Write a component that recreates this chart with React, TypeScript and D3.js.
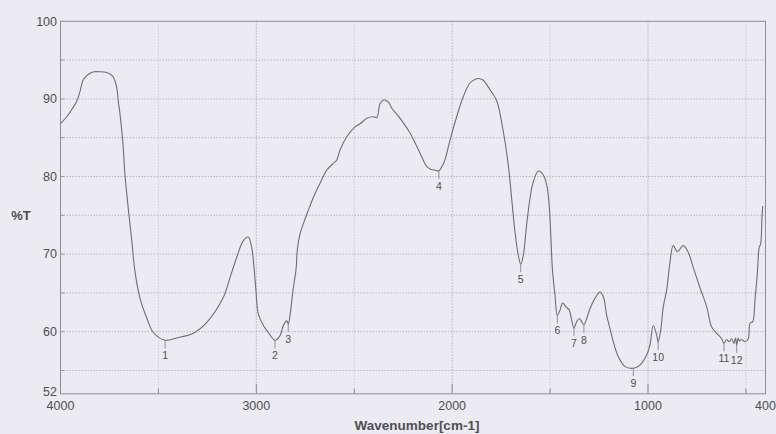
import React from "react";
import * as d3 from "d3";

const wavenumbers = [
  4000, 3968, 3943, 3917, 3900, 3885, 3870, 3849, 3829, 3798, 3764, 3747, 3730, 3713, 3705, 3696, 3682, 3671, 3654, 3636,
  3620, 3594, 3560, 3526, 3466, 3407, 3322, 3253, 3169, 3134, 3100, 3067, 3041, 3024, 3012, 3002, 2990, 2964, 2939, 2905,
  2879, 2862, 2845, 2837, 2828, 2813, 2797, 2791, 2777, 2760, 2735, 2709, 2675, 2641, 2607, 2590, 2573, 2539, 2496, 2470,
  2436, 2402, 2385, 2368, 2351, 2326, 2308, 2266, 2215, 2164, 2130, 2110, 2085, 2068, 2050, 2036, 2011, 1977, 1943, 1909,
  1875, 1858, 1841, 1807, 1773, 1739, 1713, 1696, 1679, 1662, 1650, 1637, 1620, 1603, 1586, 1560, 1535, 1517, 1506, 1497,
  1488, 1475, 1463, 1449, 1436, 1419, 1402, 1390, 1378, 1364, 1351, 1339, 1327, 1313, 1296, 1271, 1245, 1228, 1211, 1194,
  1177, 1152, 1117, 1075, 1041, 1007, 990, 973, 956, 948, 935, 922, 905, 889, 871, 850, 820, 794, 769, 735,
  700, 675, 649, 624, 612, 598, 585, 573, 561, 553, 547, 540, 534, 522, 505, 488, 479, 465, 454, 442,
  432, 425, 418, 414,
];

const transmittance = [
  86.8, 87.7, 88.6, 89.7, 91.0, 92.4, 92.9, 93.3, 93.5, 93.5, 93.4, 93.2, 92.8, 91.5, 89.7, 88.0, 84.5, 80.3, 75.9, 71.7,
  67.8, 64.3, 61.8, 59.9, 58.9, 59.2, 59.8, 61.2, 64.4, 67.0, 69.6, 71.7, 72.2, 70.9, 68.3, 65.3, 62.3, 60.8, 59.9, 58.9,
  59.5, 60.8, 61.4, 61.0, 62.1, 65.3, 68.1, 70.5, 72.6, 73.9, 75.6, 77.3, 79.1, 80.8, 81.7, 82.1, 83.4, 85.1, 86.4, 86.8,
  87.5, 87.7, 87.6, 89.4, 89.85, 89.6, 88.8, 87.5, 85.6, 83.0, 81.3, 80.95, 80.8, 80.7, 81.4, 82.2, 84.7, 87.7, 90.3, 92.05,
  92.6, 92.6, 92.4, 91.2, 89.8, 85.8, 81.4, 77.1, 72.8, 69.8, 68.7, 69.8, 73.7, 77.1, 79.3, 80.7, 80.2, 78.9, 76.7, 72.8,
  68.0, 64.7, 62.1, 62.8, 63.7, 63.2, 62.8, 61.5, 60.5, 61.3, 61.7, 61.3, 60.9, 61.7, 63.0, 64.3, 65.1, 64.5, 62.1, 60.4,
  58.7, 56.8, 55.5, 55.3, 55.7, 57.0, 58.3, 60.8, 59.6, 58.7, 60.2, 63.2, 65.3, 68.7, 71.1, 70.3, 71.1, 70.2, 68.3, 65.7,
  63.2, 60.6, 59.8, 59.1, 58.5, 59.0, 58.7, 59.1, 58.5, 59.2, 58.3, 59.2, 58.8, 59.0, 58.7, 59.1, 61.1, 61.3, 64.0, 67.4,
  70.9, 71.3, 74.7, 76.2,
];

const peakLabels = ["1", "2", "3", "4", "5", "6", "7", "8", "9", "10", "11", "12"];
const peakWavenumbers = [3466, 2905, 2837, 2068, 1650, 1463, 1378, 1327, 1075, 948, 612, 547];
const peakTransmittance = [58.9, 58.9, 61.0, 80.7, 68.7, 62.1, 60.5, 60.9, 55.3, 58.7, 58.5, 58.3];

const yTickLabels = [100, 90, 80, 70, 60, 52];
const xTickLabels = [4000, 3000, 2000, 1000, 400];
const yGridValues = [95, 90, 85, 80, 75, 70, 65, 60, 55];
const xGridValues = [3500, 3000, 2500, 2000, 1500, 1000, 500];

const W = 776;
const H = 434;
const L = 60.5;
const R = 765.5;
const T = 21.3;
const B = 393.8;

export default function App() {
  const x = d3.scaleLinear().domain([4000, 400]).range([L, R]);
  const y = d3.scaleLinear().domain([52, 100]).range([B, T]);
  const pts = wavenumbers.map((w, i) => [w, transmittance[i]] as [number, number]);
  const line = d3
    .line<[number, number]>()
    .x((d) => x(d[0]))
    .y((d) => y(d[1]))
    .curve(d3.curveCatmullRom.alpha(0.5));

  const font = "'Liberation Sans', Arial, sans-serif";
  const textCol = "#4f4e55";

  return (
    <svg
      width={W}
      height={H}
      style={{ position: "fixed", left: 0, top: 0, display: "block" }}
      fontFamily={font}
    >
      <rect x={0} y={0} width={W} height={H} fill="#ecebf2" />
      {yGridValues.map((v) => (
        <line
          key={"hy" + v}
          x1={L}
          x2={R}
          y1={y(v)}
          y2={y(v)}
          stroke="#b3b1bd"
          strokeWidth={0.9}
          strokeDasharray="1.5,1.5"
        />
      ))}
      {xGridValues.map((v) => (
        <line
          key={"vx" + v}
          x1={x(v)}
          x2={x(v)}
          y1={T}
          y2={B}
          stroke={v % 1000 === 0 ? "#aeacb8" : "#c9c7d2"}
          strokeWidth={0.9}
          strokeDasharray="1.5,1.5"
        />
      ))}
      {xGridValues.map((v) => (
        <line
          key={"tx" + v}
          x1={x(v)}
          x2={x(v)}
          y1={B}
          y2={B - (v % 1000 === 0 ? 10 : 5)}
          stroke="#8d8c95"
          strokeWidth={1}
        />
      ))}
      {yGridValues.map((v) => (
        <line
          key={"ty" + v}
          x1={L}
          x2={L + 4}
          y1={y(v)}
          y2={y(v)}
          stroke="#9a99a3"
          strokeWidth={1}
        />
      ))}
      <rect x={L} y={T} width={R - L} height={B - T} fill="none" stroke="#8d8c95" strokeWidth={1} />
      <path d={line(pts) || ""} fill="none" stroke="#6e6d76" strokeWidth={1.1} />
      {peakLabels.map((lab, i) => {
        const px = x(peakWavenumbers[i]);
        const py = y(peakTransmittance[i]);
        return (
          <g key={"pk" + lab}>
            <line x1={px} x2={px} y1={py} y2={py + 8} stroke="#85848d" strokeWidth={0.9} />
            <text x={px} y={py + 19} textAnchor="middle" fontSize={10.5} fill={textCol}>
              {lab}
            </text>
          </g>
        );
      })}
      {yTickLabels.map((v) => (
        <text
          key={"yl" + v}
          x={57}
          y={v === 52 ? y(v) - 2.5 : y(v)}
          dy="0.35em"
          textAnchor="end"
          fontSize={12.5}
          fill={textCol}
        >
          {v}
        </text>
      ))}
      {xTickLabels.map((v) => (
        <text key={"xl" + v} x={x(v)} y={410} textAnchor="middle" fontSize={12.5} fill={textCol}>
          {v}
        </text>
      ))}
      <text x={21} y={y(75)} dy="0.35em" textAnchor="middle" fontSize={13} fontWeight="bold" fill={textCol}>
        %T
      </text>
      <text x={417} y={430} textAnchor="middle" fontSize={13.5} fontWeight="bold" fill={textCol}>
        Wavenumber[cm-1]
      </text>
    </svg>
  );
}
